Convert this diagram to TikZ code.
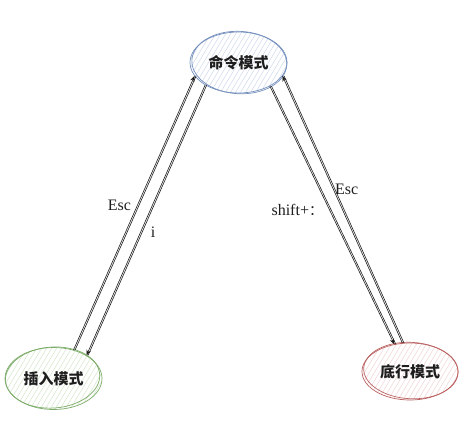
\documentclass[tikz,border=0pt]{standalone}
\usepackage{fontspec}
\setmainfont{Liberation Serif}
\newfontfamily\cjk{Noto Sans CJK SC}
\usetikzlibrary{shapes.geometric,arrows.meta}
\definecolor{topline}{RGB}{118,144,190}
\definecolor{tophatch}{RGB}{204,216,236}
\definecolor{leftline}{RGB}{124,172,104}
\definecolor{lefthatch}{RGB}{210,230,200}
\definecolor{rightline}{RGB}{188,100,100}
\definecolor{righthatch}{RGB}{240,210,210}
\definecolor{ink}{RGB}{30,30,30}
\tikzset{
  mode/.style={ellipse, inner sep=0pt, line width=0.7pt,
    font=\cjk\bfseries\fontsize{15}{18}\selectfont, text=ink},
  hatched/.style={path picture={
    \foreach \i in {-110,-105,...,110}
      \draw[#1, line width=0.45pt] ([xshift=\i pt]path picture bounding box.center)
        ++(-24pt,-40pt) -- ++(48pt,80pt);}},
  sketch/.style={line width=0.7pt},
  conn/.style={draw=ink, line width=0.6pt},
  arr/.style={conn, -{Stealth[length=5.5pt,width=4.5pt]}},
  lbl/.style={font=\fontsize{16}{18}\selectfont, text=ink, inner sep=1pt},
}
\begin{document}
\begin{tikzpicture}[x=1pt,y=-1pt]
\path[use as bounding box, fill=white] (0,0) rectangle (474,434);

% nodes
\node[mode, draw=topline, hatched=tophatch, minimum width=97pt, minimum height=61pt]
  (cmd) at (238.5,62.5) {命令模式};
\draw[sketch, draw=topline, rotate around={-3:(cmd.center)}]
  ([xshift=0.8pt]cmd.center) ellipse (47.5 and 31.2);

\node[mode, draw=leftline, hatched=lefthatch, minimum width=97pt, minimum height=62pt]
  (ins) at (53.5,378.5) {插入模式};
\draw[sketch, draw=leftline, rotate around={4:(ins.center)}]
  ([xshift=-0.8pt, yshift=1pt]ins.center) ellipse (47.2 and 30.5);

\node[mode, draw=rightline, hatched=righthatch, minimum width=96pt, minimum height=57pt]
  (bot) at (410,371.5) {底行模式};
\draw[sketch, draw=rightline, rotate around={-3:(bot.center)}]
  ([xshift=0.8pt, yshift=1pt]bot.center) ellipse (47.2 and 28.2);

% left pair: Esc (insert -> command), i (command -> insert)
\draw[arr] (ins.55) -- node[lbl, pos=0.526, anchor=east, xshift=-5pt] {Esc} (cmd.197.7);
\draw[conn] ([xshift=1.6pt]ins.55) -- ([xshift=1.6pt]cmd.197.7);

\draw[arr] (cmd.214.6) -- node[lbl, pos=0.545, anchor=west, xshift=9pt] {i} (ins.35.7);
\draw[conn] ([xshift=1.6pt]cmd.214.6) -- ([xshift=1.6pt]ins.35.7);

% right pair: shift+: (command -> bottom), Esc (bottom -> command)
\draw[arr] (cmd.323.8) -- node[lbl, pos=0.478, anchor=east, xshift=-5pt] {shift+\cjk{\fontsize{14}{16}\selectfont ：}} (bot.120);
\draw[conn] ([xshift=1.6pt]cmd.323.8) -- ([xshift=1.6pt]bot.120);

\draw[arr] (bot.105.2) -- (cmd.343);
\draw[conn] ([xshift=1.6pt]bot.105.2) -- ([xshift=1.6pt]cmd.343);
\path (bot.105.2) -- node[lbl, pos=0.575, anchor=west, xshift=0.5pt] {Esc} (cmd.343);
\end{tikzpicture}
\end{document}
